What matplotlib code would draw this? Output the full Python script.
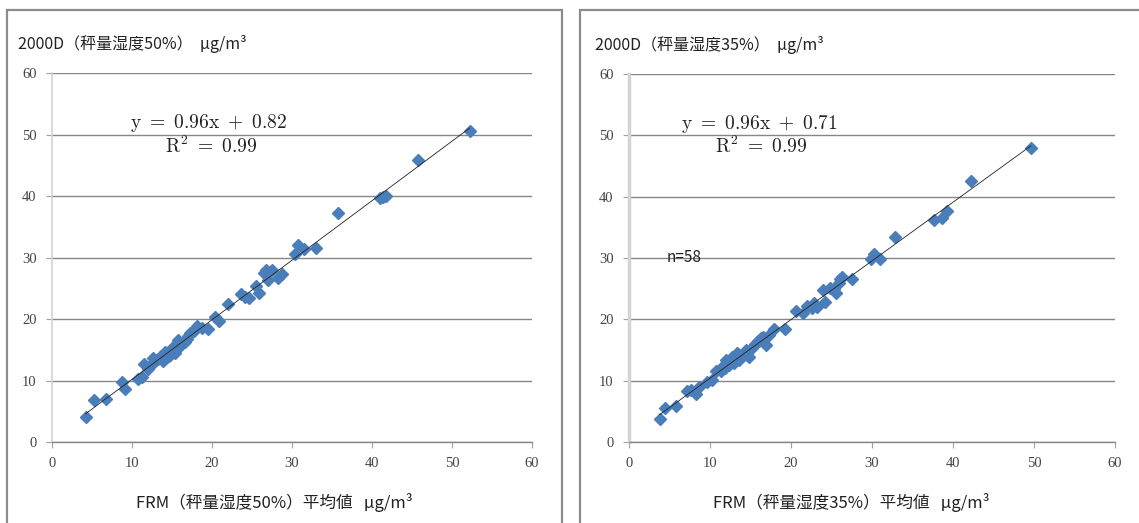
import numpy as np
import matplotlib
matplotlib.use("Agg")
import matplotlib.pyplot as plt
from matplotlib.patches import Rectangle

plt.rcParams['font.family'] = ['Noto Sans CJK JP', 'DejaVu Sans']
plt.rcParams['mathtext.fontset'] = 'cm'

# Left panel: weighing humidity 50%
frm50 = [4.2, 5.3, 6.8, 8.8, 9.1, 10.7, 11.2, 11.5, 12.0, 12.3, 12.8, 13.0, 13.2,
         13.6, 14.1, 14.3, 14.6, 14.8, 15.1, 15.4, 15.8, 16.3, 16.9, 17.3, 17.7,
         18.1, 18.8, 19.5, 20.4, 20.9, 22.0, 23.6, 24.1, 24.6, 25.5, 25.9, 26.5,
         26.8, 27.0, 27.5, 28.3, 28.8, 30.4, 30.7, 31.5, 33.0, 35.8, 41.0, 41.4,
         41.8, 45.8, 52.2, 13.9, 15.6, 16.6, 12.6, 14.9, 17.0]
d2000_50 = [4.1, 6.8, 7.0, 9.7, 8.6, 10.3, 10.5, 12.7, 11.9, 12.4, 13.0, 13.4, 13.5,
            14.0, 14.7, 13.6, 14.0, 14.2, 15.5, 14.5, 16.6, 15.9, 16.8, 17.7, 18.0,
            18.9, 18.5, 18.3, 20.4, 19.7, 22.5, 24.0, 23.5, 23.4, 25.3, 24.3, 27.5,
            27.9, 26.4, 27.9, 26.7, 27.3, 30.5, 32.0, 31.4, 31.6, 37.2, 39.6, 39.9,
            40.0, 45.8, 50.5, 13.2, 15.2, 16.2, 13.6, 15.0, 17.2]

# Right panel: weighing humidity 35%
frm35 = [3.8, 4.5, 5.8, 7.2, 7.7, 8.3, 8.7, 9.6, 10.2, 10.8, 11.3, 11.8, 12.0, 12.4,
         12.9, 13.3, 13.6, 14.0, 14.4, 14.8, 15.2, 15.6, 16.0, 16.5, 16.9, 17.3,
         17.9, 19.2, 20.6, 21.5, 22.0, 22.6, 23.2, 24.0, 24.2, 24.8, 25.3, 25.6,
         25.9, 26.3, 27.5, 29.9, 30.3, 31.0, 32.8, 37.6, 38.6, 39.3, 42.2, 49.6,
         11.6, 13.0, 14.6, 15.9, 16.3, 12.7, 22.9, 26.0]
d2000_35 = [3.8, 5.6, 5.8, 8.3, 8.5, 7.8, 8.9, 9.8, 10.1, 11.5, 11.6, 12.0, 13.4, 12.5,
            13.2, 14.5, 13.4, 14.0, 15.0, 13.9, 15.4, 16.0, 16.5, 17.2, 15.8, 17.4,
            18.5, 18.5, 21.4, 21.0, 22.2, 21.8, 22.0, 24.8, 22.9, 25.1, 25.0, 24.3,
            25.9, 26.9, 26.5, 29.8, 30.7, 29.8, 33.5, 36.2, 36.6, 37.6, 42.5, 48.0,
            12.4, 12.8, 14.2, 16.4, 16.9, 13.9, 22.6, 26.6]

panels = [
    dict(x=frm50, y=d2000_50, ylab="2000D（秤量湿度50%）  μg/m³",
         xlab="FRM（秤量湿度50%）平均値   μg/m³",
         eq="y = 0.96x + 0.82", eq_pos=(9.8, 51.9), r2_pos=(14.1, 48.0), n=None,
         rect=[52 / 1139, 81 / 523, 480 / 1139, 369 / 523],
         frame=(7, 10, 555), spine_w=1.2, xlab_x=0.4625),
    dict(x=frm35, y=d2000_35, ylab="2000D（秤量湿度35%）  μg/m³",
         xlab="FRM（秤量湿度35%）平均値   μg/m³",
         eq="y = 0.96x + 0.71", eq_pos=(6.4, 51.9), r2_pos=(10.6, 48.0), n="n=58",
         rect=[629 / 1139, 81 / 523, 486 / 1139, 368 / 523],
         frame=(580, 10, 570), spine_w=2.5, xlab_x=0.457),
]

fig = plt.figure(figsize=(11.39, 5.23), dpi=100)

for p in panels:
    # outer chart frame
    fx, fy, fw = p["frame"]
    fig.patches.append(Rectangle((fx / 1139, -0.05), fw / 1139, (523 - fy) / 523 + 0.05,
                                 transform=fig.transFigure, fill=False,
                                 edgecolor="#8c8c8c", linewidth=1.6, zorder=0))

    ax = fig.add_axes(p["rect"])
    x = np.array(p["x"])
    y = np.array(p["y"])

    ax.plot(x, y, linestyle="none", marker="D", markersize=5.8,
            color="#4a7ebb", markeredgecolor="#4a7ebb", zorder=3)

    slope, icpt = np.polyfit(x, y, 1)
    xx = np.array([x.min(), x.max()])
    ax.plot(xx, slope * xx + icpt, color="#222222", linewidth=0.6, zorder=4)

    ax.set_xlim(0, 60)
    ax.set_ylim(0, 60)
    ax.set_xticks(range(0, 61, 10))
    ax.set_yticks(range(0, 61, 10))
    ax.yaxis.grid(True, color="#868686", linewidth=1.0)
    ax.set_axisbelow(True)

    for side in ["top", "right"]:
        ax.spines[side].set_visible(False)
    ax.spines["left"].set_color("#d4d4d4")
    ax.spines["left"].set_linewidth(p["spine_w"])
    ax.spines["bottom"].set_color("#868686")
    ax.spines["bottom"].set_linewidth(1.0)

    ax.tick_params(axis="both", direction="out", length=4, color="#a0a0a0",
                   labelsize=10.5, labelcolor="#444444", pad=7)
    for lab in ax.get_xticklabels() + ax.get_yticklabels():
        lab.set_family("Liberation Serif")

    ax.text(*p["eq_pos"], "$\\mathrm{" + p["eq"].replace(" ", "\\ ") + "}$",
            fontsize=14, va="center", ha="left", color="#222222")
    ax.text(*p["r2_pos"], "$\\mathrm{R^2\\ =\\ 0.99}$", fontsize=14,
            va="center", ha="left", color="#222222")
    if p["n"] is not None:
        ax.text(4.7, 30.0, p["n"], fontsize=11, va="center", ha="left",
                color="#222222")

    # y-axis title sits above the plot area, x-axis title below
    ax.text(-34 / 480, 1.078, p["ylab"], transform=ax.transAxes, fontsize=11.5,
            ha="left", va="center", color="#222222")
    ax.text(p["xlab_x"], -0.165, p["xlab"], transform=ax.transAxes, fontsize=12,
            ha="center", va="center", color="#222222")

fig.savefig("out.png", dpi=100)
